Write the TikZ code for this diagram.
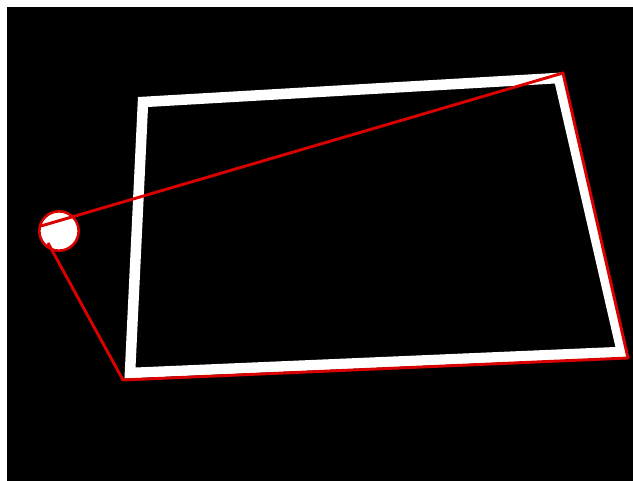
\documentclass[tikz,border=0pt]{standalone}
\usepackage{tikz}
\tikzset{
  frame/.style={draw=white, line width=9pt, line join=miter},
  ray/.style={draw=red!85!black, line width=2.5pt, line join=round},
  eye/.style={circle, draw=red!85!black, fill=white, line width=2.2pt, minimum size=1.18cm, inner sep=0pt}
}
\begin{document}
\begin{tikzpicture}[x=0.03cm, y=-0.03cm]
        \useasboundingbox (0,0) rectangle (633,481);
        \fill[black] (7,7) rectangle (633,481);
        % white frame
        \coordinate (tl) at (143,102); \coordinate (tr) at (559,78);
        \coordinate (br) at (622,352); \coordinate (bl) at (130,373);
        \draw[frame] (tl) -- (tr) -- (br) -- (bl) -- cycle;
        % red outline and viewer
        \node[eye] (cam) at (59,231) {};
        \coordinate (rtr) at (563,73); \coordinate (rbr) at (628,358); \coordinate (rbl) at (123,380);
        \coordinate (ca) at (41,226); \coordinate (cb) at (48,243);
        \draw[ray] (ca) -- (rtr) -- (rbr) -- (rbl) -- (cb);
\end{tikzpicture}
\end{document}
